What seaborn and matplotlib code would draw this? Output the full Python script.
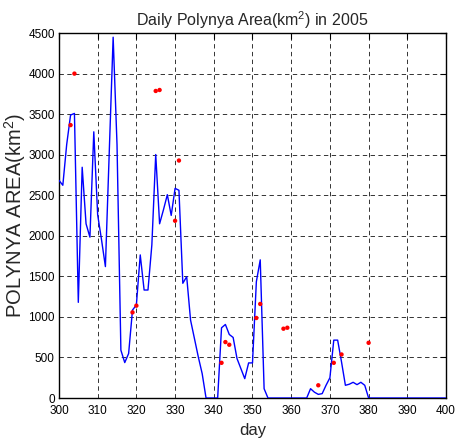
import numpy as np
import pandas as pd
import matplotlib
matplotlib.use("Agg")
import matplotlib.pyplot as plt
import seaborn as sns

# ---- data ----
line_days = list(range(300, 401))
line_vals = [2685, 2624, 3127, 3490, 3510, 1180, 2846, 2149, 1984, 3283,
             2260, 1951, 1621, 3040, 4450, 3127, 590, 437, 549, 1085,
             1147, 1765, 1332, 1332, 1889, 3003, 2149, 2322, 2508, 2252,
             2586, 2562, 1415, 1497, 961, 734, 507, 301, 0, 0,
             0, 0, 866, 907, 784, 747, 487, 363, 239, 433,
             433, 1435, 1704, 115, 0, 0, 0, 0, 0, 0,
             0, 0, 0, 0, 0, 115, 72, 45, 54, 157,
             250, 714, 714, 445, 157, 170, 194, 165, 194, 157,
             0, 0, 0, 0, 0, 0, 0, 0, 0, 0,
             0, 0, 0, 0, 0, 0, 0, 0, 0, 0,
             0]

point_days = [303, 304, 319, 320, 325, 326, 330, 331, 342, 343, 344,
              351, 352, 358, 359, 367, 371, 373, 380]
point_vals = [3366, 4001, 1056, 1139, 3787, 3799, 2186, 2929, 434, 690, 657,
              987, 1160, 855, 867, 157, 434, 537, 681]

x_ticks = list(range(300, 401, 10))
y_ticks = list(range(0, 4501, 500))

title = "Daily Polynya Area(km$^2$) in 2005"
xlabel = "day"
ylabel = "POLYNYA AREA(km$^2$)"

# ---- plotting ----
sns.set_theme(style="white")
plt.rcParams["font.family"] = ["Liberation Sans", "DejaVu Sans"]
plt.rcParams["mathtext.fontset"] = "custom"
plt.rcParams["mathtext.rm"] = "Liberation Sans"

fig = plt.figure(figsize=(4.57, 4.42), dpi=100)
ax = fig.add_axes([0.129, 0.0995, 0.847, 0.8255])

line_df = pd.DataFrame({"day": line_days, "area": line_vals})
pt_df = pd.DataFrame({"day": point_days, "area": point_vals})

sns.lineplot(data=line_df, x="day", y="area", ax=ax, color="#0000ff",
             linewidth=1.0, zorder=3)
sns.scatterplot(data=pt_df, x="day", y="area", ax=ax, color="#ff0000",
                s=10, edgecolor="none", zorder=4)

ax.set_xlim(300, 400)
ax.set_ylim(0, 4500)
ax.set_xticks(x_ticks)
ax.set_yticks(y_ticks)
ax.tick_params(direction="in", length=4, width=0.8, top=True, right=True,
               labelsize=8.5, colors="black")
ax.tick_params(axis="x", pad=5)
ax.tick_params(axis="y", pad=3)
ax.grid(True, color="black", linestyle=(0, (4.5, 3.5)), linewidth=0.7,
        alpha=0.8)
for sp in ax.spines.values():
    sp.set_visible(True)
    sp.set_color("black")
    sp.set_linewidth(1.0)

ax.set_title(title, fontsize=11.5, pad=5)
ax.set_xlabel(xlabel, fontsize=12, labelpad=4)
ax.set_ylabel(ylabel, fontsize=14.5)
ax.yaxis.set_label_coords(-0.08, 0.5)

fig.savefig("out.png", dpi=100)
